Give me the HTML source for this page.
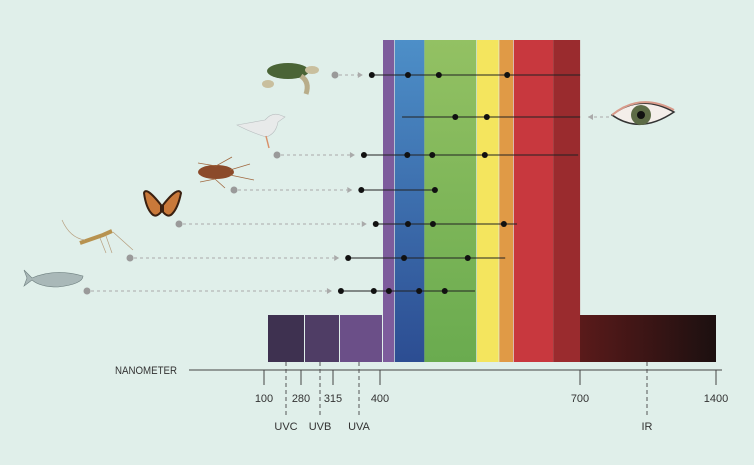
<!DOCTYPE html>
<html><head><meta charset="utf-8"><style>
html,body{margin:0;padding:0;background:#e0efea;}
svg{display:block;font-family:"Liberation Sans",sans-serif;}
</style></head><body>
<svg id="c" width="754" height="465" viewBox="0 0 754 465">
<defs>
<linearGradient id="ir" x1="0" x2="1"><stop offset="0" stop-color="#5a1a1a"/><stop offset="1" stop-color="#1c1010"/></linearGradient>
<linearGradient id="bl" x1="0" y1="0" x2="0" y2="1"><stop offset="0" stop-color="#4d8fc8"/><stop offset="1" stop-color="#2c4d92"/></linearGradient>
<linearGradient id="gr" x1="0" y1="0" x2="0" y2="1"><stop offset="0" stop-color="#93c163"/><stop offset="1" stop-color="#6aab4f"/></linearGradient>
</defs>
<g id="bands"></g>
<g id="axis"></g>
<g id="animals">
 <g><ellipse cx="288" cy="71" rx="21" ry="8" fill="#4a6436"/><ellipse cx="312" cy="70" rx="7" ry="4" fill="#c9bf9e"/><ellipse cx="268" cy="84" rx="6" ry="4" fill="#c9bf9e"/><path d="M301 76 Q310 82 306 94" stroke="#b8ad8a" stroke-width="5" fill="none"/></g>
 <g><path d="M237 125 L265 120 Q272 112 280 115 L285 117 L278 122 Q276 134 266 137 Q250 132 237 125 Z" fill="#e8eaea" stroke="#b9bfc0" stroke-width="0.6"/><line x1="266" y1="136" x2="269" y2="148" stroke="#d8906a" stroke-width="1.5"/></g>
 <g><ellipse cx="216" cy="172" rx="18" ry="7" fill="#8b4a2a"/><path d="M198 163 L216 166 L232 157 M200 182 L215 179 L225 188 M230 170 L250 164 M230 175 L254 180" stroke="#a0683f" stroke-width="0.8" fill="none"/></g>
 <g><path d="M161 205 Q146 186 144 193 Q146 208 152 214 Q156 218 161 212 Z" fill="#c9793a" stroke="#3a2010" stroke-width="2"/><path d="M163 205 Q178 186 181 193 Q178 208 172 214 Q168 218 163 212 Z" fill="#c9793a" stroke="#3a2010" stroke-width="2"/></g>
 <g><path d="M80 243 L103 235 L112 231" stroke="#b7924f" stroke-width="4" fill="none"/><path d="M62 220 Q70 238 85 240 M100 238 L106 253 M106 236 L112 253 M113 232 L133 250" stroke="#b7a080" stroke-width="0.7" fill="none"/></g>
 <g><path d="M32 278 Q55 268 83 276 Q83 284 58 287 Q40 287 32 280 L24 286 L27 278 L24 270 Z" fill="#a9b8b8" stroke="#6f8080" stroke-width="0.6"/></g>
 <g><path d="M612 115 Q640 93 674 112 Q640 135 612 115 Z" fill="#f4eeea" stroke="#333" stroke-width="1.5"/><circle cx="641" cy="115" r="10" fill="#5d6b46"/><circle cx="641" cy="115" r="4" fill="#111"/><path d="M612 115 Q640 92 674 110" stroke="#d89a8a" stroke-width="2" fill="none"/></g>
</g>
<g id="rows"></g>
</svg>
<script>
// Band boundaries (nm-ish) and colours
const visBands = [[400,417,"#7d5c9c"],[418,463,"url(#bl)"],[463,542,"url(#gr)"],[543,576,"#f4e55e"],[577,598,"#e09a46"],[599,659,"#c8383e"],[659,700,"#9a2b2e"]];
const uvBands = [["UVC","#3e3150"],["UVB","#4f3d65"],["UVA","#6b4f88"]];
const tickLabels = ["100","280","315","400","700","1400"];
const tickX = [264,301,333,380,580,716];
const regionLabels = ["UVC","UVB","UVA","IR"];
const regionX = [286,320,359,647];
// Animal sensitivity: peak wavelengths (nm) and line ranges
const rowNames = ["turtle","human-eye","seagull","cockroach","butterfly","mosquito","fish"];
const rowY = [75,117,155,190,224,258,291];
const rowStart = [383,429,371,367,389,347,336];
const rowEnd = [700,700,697,479,604,586,540];
const rowPeaks = [[383,438,485,589],[510,558],[371,437,475,555],[367,479],[389,438,476,584],[347,432,529],[336,386,409,455,494]];
const rowOrigin = [335,null,277,234,179,130,87];

const NS="http://www.w3.org/2000/svg";
function mk(t,a,p){const e=document.createElementNS(NS,t);for(const k in a)e.setAttribute(k,a[k]);p.appendChild(e);return e;}
const x = nm => 383 + (nm-400)*0.657;

const bands=document.getElementById('bands');
const uvX=[268,305,340,383];
uvBands.forEach((b,i)=>{const r=mk('rect',{x:uvX[i],y:315,width:uvX[i+1]-uvX[i]-1,height:47,fill:b[1]},bands);

});
visBands.forEach((b,i)=>{const r=mk('rect',{x:x(b[0]),y:40,width:x(b[1])-x(b[0]),height:322,fill:b[2]},bands);

});
const irr=mk('rect',{x:580,y:315,width:136,height:47,fill:"url(#ir)"},bands);



const ax=document.getElementById('axis');
const al=mk('line',{x1:189,y1:370,x2:722,y2:370,stroke:"#444","stroke-width":1},ax);


const at=mk('text',{x:115,y:374,"font-size":11,fill:"#333",textLength:62,lengthAdjust:"spacingAndGlyphs"},ax);at.textContent="NANOMETER";


tickLabels.forEach((l,i)=>{mk('line',{x1:tickX[i],y1:370,x2:tickX[i],y2:385,stroke:"#444"},ax);
const t=mk('text',{x:tickX[i],y:402,"font-size":11,fill:"#333","text-anchor":"middle"},ax);t.textContent=l;

});
regionLabels.forEach((l,i)=>{mk('line',{x1:regionX[i],y1:362,x2:regionX[i],y2:415,stroke:"#555","stroke-dasharray":"4,3"},ax);
const t=mk('text',{x:regionX[i],y:430,"font-size":11,fill:"#333","text-anchor":"middle"},ax);t.textContent=l;

});

const rows=document.getElementById('rows');
rowNames.forEach((n,i)=>{const g=mk('g',{},rows);


const y=rowY[i];
if(rowOrigin[i]!==null){mk('circle',{cx:rowOrigin[i],cy:y,r:3.5,fill:"#9a9a9a"},g);
const ex=x(rowStart[i])-14;
mk('line',{x1:rowOrigin[i]+4,y1:y,x2:ex,y2:y,stroke:"#aaa","stroke-dasharray":"3,3"},g);
mk('path',{d:`M${ex} ${y-3} L${ex+5} ${y} L${ex} ${y+3}Z`,fill:"#aaa"},g);}
else{mk('line',{x1:588,y1:y,x2:610,y2:y,stroke:"#aaa","stroke-dasharray":"3,3"},g);
mk('path',{d:`M588 ${y} L593 ${y-3} L593 ${y+3}Z`,fill:"#aaa"},g);}
mk('line',{x1:x(rowStart[i]),y1:y,x2:x(rowEnd[i]),y2:y,stroke:"#222","stroke-width":1},g);
rowPeaks[i].forEach(p=>{const c=mk('circle',{cx:x(p),cy:y,r:3,fill:"#111"},g);

});});
</script>
</body></html>
